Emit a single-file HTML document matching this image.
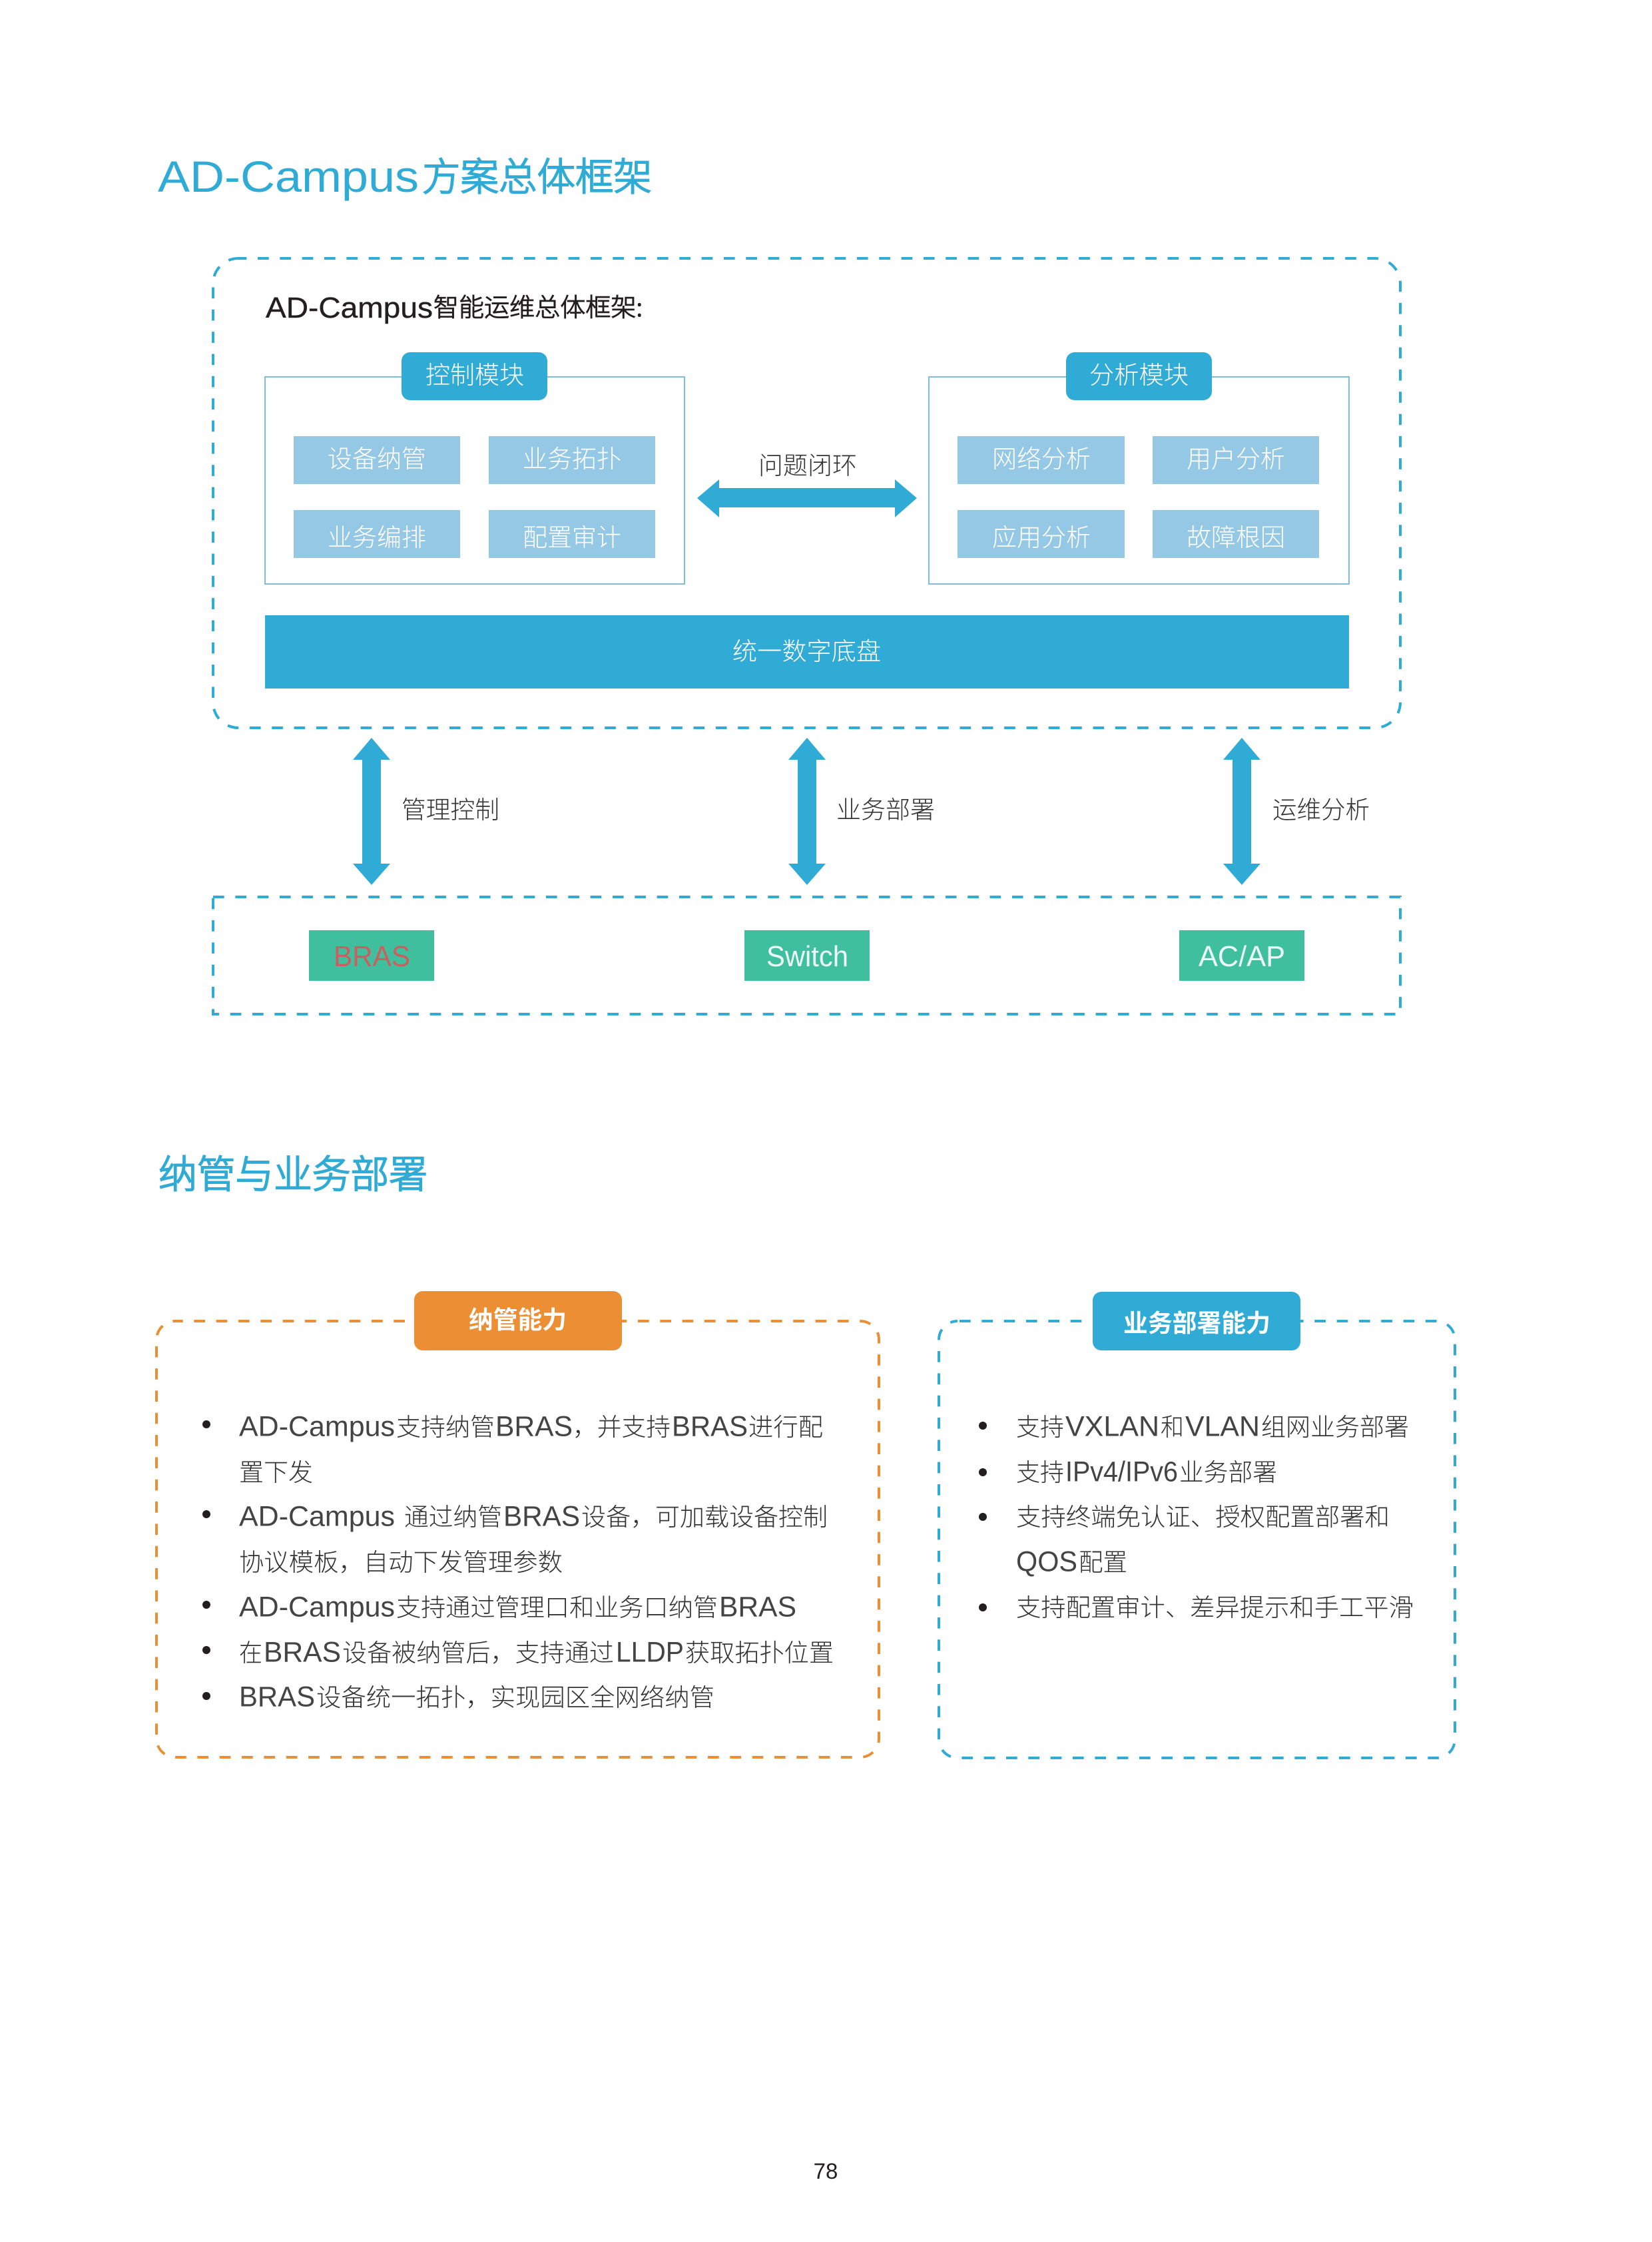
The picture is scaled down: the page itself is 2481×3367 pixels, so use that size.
<!DOCTYPE html>
<html lang="zh"><head><meta charset="utf-8"><title>AD-Campus方案总体框架</title>
<style>
html,body{margin:0;padding:0;background:#fff;width:2481px;height:3367px;overflow:hidden}
svg{display:block}
text{white-space:pre}
.c{font-family:"Noto Sans CJK SC","Liberation Sans",sans-serif;font-size:37px;font-weight:300}
.l{font-family:"Liberation Sans","Noto Sans CJK SC",sans-serif;font-size:44px}
.d{fill:#333}
.l.d{font-size:42.5px;fill:#444;transform:translateY(-1.5px)}
.w{fill:#fff}
.h{fill:#2fabd5}
.c.h{stroke:#2fabd5;stroke-width:2}
.k{fill:#231f20;stroke:#231f20;stroke-width:.4}
.c.k{stroke-width:1.1}
.b{font-weight:700}
</style></head><body>
<svg xmlns="http://www.w3.org/2000/svg" width="2481" height="3367" viewBox="0 0 2481 3367">
<rect width="2481" height="3367" fill="#fff"/>

<text class="l h" x="237" y="288" style="font-size:66px" textLength="392" lengthAdjust="spacingAndGlyphs">AD-Campus</text>
<text class="c h" x="634" y="286" style="font-size:58px" textLength="345" lengthAdjust="spacingAndGlyphs">方案总体框架</text>

<rect x="320" y="388" width="1783" height="705" rx="38" fill="none" stroke="#2fabd5" stroke-width="4" stroke-dasharray="16.67 16.66" stroke-dashoffset="4.3"/>
<text class="l k" x="399" y="477" textLength="251" lengthAdjust="spacingAndGlyphs">AD-Campus</text>
<text class="c k" x="651" y="475" style="font-size:38px" textLength="314" lengthAdjust="spacingAndGlyphs">智能运维总体框架:</text>

<rect x="398" y="566" width="630" height="311" fill="none" stroke="#7dbddd" stroke-width="2"/>
<rect x="1395" y="566" width="631" height="311" fill="none" stroke="#7dbddd" stroke-width="2"/>
<rect x="603" y="529" width="219" height="72" rx="13" fill="#2fabd5"/>
<rect x="1601" y="529" width="219" height="72" rx="13" fill="#2fabd5"/>
<text class="c w" x="639" y="576" textLength="148" lengthAdjust="spacingAndGlyphs">控制模块</text>
<text class="c w" x="1636" y="576" textLength="149" lengthAdjust="spacingAndGlyphs">分析模块</text>

<g fill="#95c8e4">
<rect x="441" y="655" width="250" height="72"/><rect x="734" y="655" width="250" height="72"/>
<rect x="441" y="766" width="250" height="72"/><rect x="734" y="766" width="250" height="72"/>
<rect x="1438" y="655" width="251" height="72"/><rect x="1731" y="655" width="250" height="72"/>
<rect x="1438" y="766" width="251" height="72"/><rect x="1731" y="766" width="250" height="72"/>
</g>
<g class="w">
<text class="c w" x="492" y="702" textLength="148" lengthAdjust="spacingAndGlyphs">设备纳管</text>
<text class="c w" x="785" y="702" textLength="148" lengthAdjust="spacingAndGlyphs">业务拓扑</text>
<text class="c w" x="492" y="820" textLength="148" lengthAdjust="spacingAndGlyphs">业务编排</text>
<text class="c w" x="785" y="820" textLength="148" lengthAdjust="spacingAndGlyphs">配置审计</text>
<text class="c w" x="1490" y="702" textLength="148" lengthAdjust="spacingAndGlyphs">网络分析</text>
<text class="c w" x="1782" y="702" textLength="148" lengthAdjust="spacingAndGlyphs">用户分析</text>
<text class="c w" x="1490" y="820" textLength="148" lengthAdjust="spacingAndGlyphs">应用分析</text>
<text class="c w" x="1782" y="820" textLength="148" lengthAdjust="spacingAndGlyphs">故障根因</text>
</g>

<text class="c d" x="1139" y="712" textLength="148" lengthAdjust="spacingAndGlyphs">问题闭环</text>
<polygon points="1047,748 1080,720 1080,733 1344,733 1344,720 1377,748 1344,777 1344,762 1080,762 1080,777" fill="#2fabd5"/>

<rect x="398" y="924" width="1628" height="110" fill="#2fabd5"/>
<text class="c w" x="1100" y="991" textLength="223" lengthAdjust="spacingAndGlyphs">统一数字底盘</text>

<g fill="#2fabd5">
<polygon points="558,1108 586,1141 572,1141 572,1297 586,1297 558,1329 530,1297 544,1297 544,1141 530,1141"/>
<polygon points="1212,1108 1240,1141 1226,1141 1226,1297 1240,1297 1212,1329 1184,1297 1198,1297 1198,1141 1184,1141"/>
<polygon points="1865,1108 1893,1141 1879,1141 1879,1297 1893,1297 1865,1329 1837,1297 1851,1297 1851,1141 1837,1141"/>
</g>
<text class="c d" x="603" y="1229" textLength="147" lengthAdjust="spacingAndGlyphs">管理控制</text>
<text class="c d" x="1256" y="1229" textLength="148" lengthAdjust="spacingAndGlyphs">业务部署</text>
<text class="c d" x="1911" y="1229" textLength="146" lengthAdjust="spacingAndGlyphs">运维分析</text>

<rect x="320" y="1347" width="1783" height="176" fill="none" stroke="#2fabd5" stroke-width="4" stroke-dasharray="16.67 16.66"/>
<g fill="#40bf9f">
<rect x="464" y="1397" width="188" height="76"/>
<rect x="1118" y="1397" width="188" height="76"/>
<rect x="1771" y="1397" width="188" height="76"/>
</g>
<text class="l" x="501" y="1451" fill="#c9605f" textLength="115" lengthAdjust="spacingAndGlyphs">BRAS</text>
<text class="l w" x="1151" y="1451" fill-opacity=".9" textLength="123" lengthAdjust="spacingAndGlyphs">Switch</text>
<text class="l w" x="1800" y="1451" fill-opacity=".9" textLength="130" lengthAdjust="spacingAndGlyphs">AC/AP</text>

<text class="c h" x="238" y="1784" style="font-size:58px" textLength="404" lengthAdjust="spacingAndGlyphs">纳管与业务部署</text>

<rect x="235" y="1984" width="1085" height="655" rx="28" fill="none" stroke="#ea8f36" stroke-width="4" stroke-dasharray="16.67 16.66" stroke-dashoffset="5"/>
<rect x="608" y="1975" width="20" height="20" fill="#fff"/>
<rect x="622" y="1939" width="312" height="89" rx="13" fill="#ec8e33"/>
<text class="c w b" x="704" y="1995" textLength="147" lengthAdjust="spacingAndGlyphs">纳管能力</text>

<rect x="1410" y="1984" width="775" height="656" rx="28" fill="none" stroke="#2fabd5" stroke-width="4" stroke-dasharray="16.67 16.66" stroke-dashoffset="-3"/>
<rect x="1626" y="1975" width="20" height="20" fill="#fff"/>
<rect x="1641" y="1940" width="312" height="88" rx="13" fill="#2fabd5"/>
<text class="c w b" x="1687" y="2000" textLength="221" lengthAdjust="spacingAndGlyphs">业务部署能力</text>

<g fill="#231f20">
<circle cx="310" cy="2139" r="6"/><circle cx="310" cy="2274" r="6"/><circle cx="310" cy="2410" r="6"/><circle cx="310" cy="2478" r="6"/><circle cx="310" cy="2547" r="6"/>
<circle cx="1476" cy="2141" r="6"/><circle cx="1476" cy="2211" r="6"/><circle cx="1476" cy="2278" r="6"/><circle cx="1476" cy="2414" r="6"/>
</g>

<!-- left list -->
<text class="l d" x="359" y="2158" textLength="234" lengthAdjust="spacingAndGlyphs">AD-Campus</text>
<text class="c d" x="595" y="2156" textLength="148" lengthAdjust="spacingAndGlyphs">支持纳管</text>
<text class="l d" x="744" y="2158" textLength="116" lengthAdjust="spacingAndGlyphs">BRAS</text>
<text class="c d" x="860" y="2156" textLength="147" lengthAdjust="spacingAndGlyphs">，并支持</text>
<text class="l d" x="1009" y="2158" textLength="114" lengthAdjust="spacingAndGlyphs">BRAS</text>
<text class="c d" x="1124" y="2156" textLength="112" lengthAdjust="spacingAndGlyphs">进行配</text>
<text class="c d" x="359" y="2224" textLength="111" lengthAdjust="spacingAndGlyphs">置下发</text>

<text class="l d" x="359" y="2293" textLength="234" lengthAdjust="spacingAndGlyphs">AD-Campus</text>
<text class="c d" x="607" y="2291" textLength="147" lengthAdjust="spacingAndGlyphs">通过纳管</text>
<text class="l d" x="756" y="2293" textLength="115" lengthAdjust="spacingAndGlyphs">BRAS</text>
<text class="c d" x="873" y="2291" textLength="370" lengthAdjust="spacingAndGlyphs">设备，可加载设备控制</text>
<text class="c d" x="359" y="2359" textLength="486" lengthAdjust="spacingAndGlyphs">协议模板，自动下发管理参数</text>

<text class="l d" x="359" y="2429" textLength="234" lengthAdjust="spacingAndGlyphs">AD-Campus</text>
<text class="c d" x="595" y="2427" textLength="483" lengthAdjust="spacingAndGlyphs">支持通过管理口和业务口纳管</text>
<text class="l d" x="1080" y="2429" textLength="116" lengthAdjust="spacingAndGlyphs">BRAS</text>

<text class="c d" x="359" y="2495" textLength="35" lengthAdjust="spacingAndGlyphs">在</text>
<text class="l d" x="396" y="2497" textLength="116" lengthAdjust="spacingAndGlyphs">BRAS</text>
<text class="c d" x="514" y="2495" textLength="408" lengthAdjust="spacingAndGlyphs">设备被纳管后，支持通过</text>
<text class="l d" x="925" y="2497" textLength="102" lengthAdjust="spacingAndGlyphs">LLDP</text>
<text class="c d" x="1029" y="2495" textLength="223" lengthAdjust="spacingAndGlyphs">获取拓扑位置</text>

<text class="l d" x="359" y="2564" textLength="114" lengthAdjust="spacingAndGlyphs">BRAS</text>
<text class="c d" x="475" y="2562" textLength="598" lengthAdjust="spacingAndGlyphs">设备统一拓扑，实现园区全网络纳管</text>

<!-- right list -->
<text class="c d" x="1526" y="2156" textLength="72" lengthAdjust="spacingAndGlyphs">支持</text>
<text class="l d" x="1600" y="2158" textLength="141" lengthAdjust="spacingAndGlyphs">VXLAN</text>
<text class="c d" x="1743" y="2156" textLength="35" lengthAdjust="spacingAndGlyphs">和</text>
<text class="l d" x="1780" y="2158" textLength="112" lengthAdjust="spacingAndGlyphs">VLAN</text>
<text class="c d" x="1894" y="2156" textLength="222" lengthAdjust="spacingAndGlyphs">组网业务部署</text>

<text class="c d" x="1526" y="2224" textLength="72" lengthAdjust="spacingAndGlyphs">支持</text>
<text class="l d" x="1600" y="2226" textLength="169" lengthAdjust="spacingAndGlyphs">IPv4/IPv6</text>
<text class="c d" x="1771" y="2224" textLength="147" lengthAdjust="spacingAndGlyphs">业务部署</text>

<text class="c d" x="1526" y="2291" textLength="561" lengthAdjust="spacingAndGlyphs">支持终端免认证、授权配置部署和</text>

<text class="l d" x="1526" y="2361" textLength="92" lengthAdjust="spacingAndGlyphs">QOS</text>
<text class="c d" x="1620" y="2359" textLength="73" lengthAdjust="spacingAndGlyphs">配置</text>

<text class="c d" x="1526" y="2427" textLength="597" lengthAdjust="spacingAndGlyphs">支持配置审计、差异提示和手工平滑</text>

<text x="1240" y="3272" text-anchor="middle" font-family="Liberation Sans, sans-serif" font-size="33" fill="#231f20">78</text>
</svg>
</body></html>
